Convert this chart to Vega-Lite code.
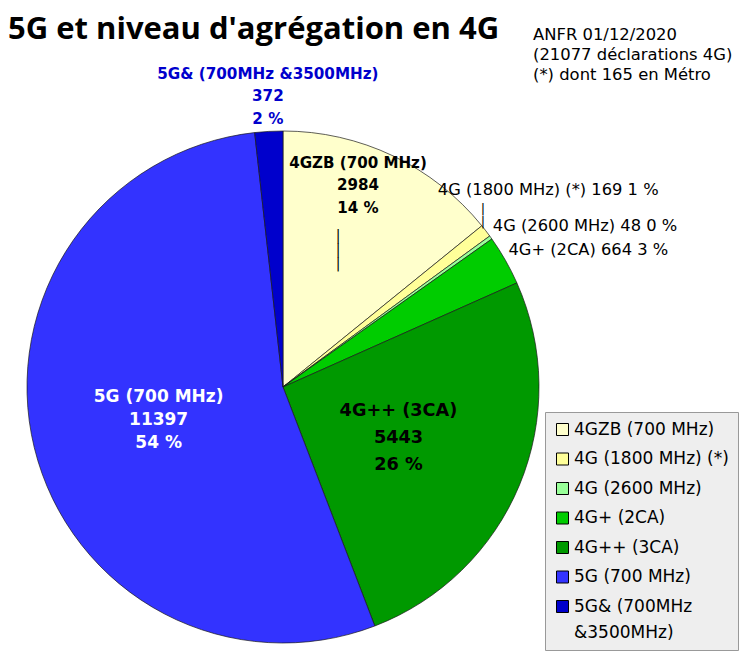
{
  "$schema": "https://vega.github.io/schema/vega-lite/v6.json",
  "width": 512,
  "height": 512,
  "autosize": {"type": "none"},
  "padding": {"left": 27, "top": 131, "right": 204, "bottom": 14},
  "background": "white",
  "title": {
    "text": "5G et niveau d'agrégation en 4G",
    "anchor": "start",
    "frame": "group",
    "font": "Open Sans",
    "fontSize": 31,
    "fontWeight": "bold",
    "color": "black",
    "dx": -19,
    "dy": 19,
    "offset": 0
  },
  "config": {"view": {"stroke": null}, "font": "DejaVu Sans", "style": {"guide-label": {"lineHeight": 26}}},
  "data": {
    "values": [
      {"name": "4GZB (700 MHz)", "value": 2984, "order": 1, "label": "4GZB (700 MHz)\n2984\n14 %"},
      {"name": "4G (1800 MHz) (*)", "value": 169, "order": 2, "label": "4G (1800 MHz) (*) 169 1 %"},
      {"name": "4G (2600 MHz)", "value": 48, "order": 3, "label": "4G (2600 MHz) 48 0 %"},
      {"name": "4G+ (2CA)", "value": 664, "order": 4, "label": "4G+ (2CA) 664 3 %"},
      {"name": "4G++ (3CA)", "value": 5443, "order": 5, "label": "4G++ (3CA)\n5443\n26 %"},
      {"name": "5G (700 MHz)", "value": 11397, "order": 6, "label": "5G (700 MHz)\n11397\n54 %"},
      {"name": "5G& (700MHz &3500MHz)", "value": 372, "order": 7, "label": "5G& (700MHz &3500MHz)\n372\n2 %"}
    ]
  },
  "encoding": {
    "theta": {"field": "value", "type": "quantitative", "stack": true},
    "order": {"field": "order", "type": "quantitative"}
  },
  "layer": [
    {
      "mark": {"type": "arc", "stroke": "#1a1a1a", "strokeWidth": 0.7},
      "encoding": {
        "color": {
          "field": "name",
          "type": "nominal",
          "scale": {
            "domain": ["4GZB (700 MHz)", "4G (1800 MHz) (*)", "4G (2600 MHz)", "4G+ (2CA)", "4G++ (3CA)", "5G (700 MHz)", "5G& (700MHz &3500MHz)"],
            "range": ["#ffffcc", "#ffff99", "#99ff99", "#00cc00", "#009900", "#3333ff", "#0000cc"]
          },
          "legend": {
            "title": null,
            "orient": "none",
            "legendX": 518,
            "legendY": 281,
            "direction": "vertical",
            "fillColor": "#eeeeee",
            "strokeColor": "#999999",
            "padding": 9,
            "symbolType": "square",
            "symbolSize": 144,
            "symbolStrokeColor": "black",
            "symbolStrokeWidth": 1,
            "symbolOpacity": 1,
            "labelFont": "DejaVu Sans",
            "labelFontSize": 17,
            "labelColor": "black",
            "labelOffset": 3,
            "labelLimit": 300,
            "rowPadding": 11.5,
            "labelExpr": "datum.label == '5G& (700MHz &3500MHz)' ? ['5G& (700MHz', '&3500MHz)'] : datum.label"
          }
        },
        "opacity": {
          "datum": "ANFR",
          "type": "nominal",
          "scale": {"range": [1, 1]},
          "legend": {
            "title": ["ANFR 01/12/2020", "(21077 déclarations 4G)", "(*) dont 165 en Métro"],
            "orient": "none",
            "legendX": 506,
            "legendY": -104,
            "padding": 0,
            "titleFont": "DejaVu Sans",
            "titleFontSize": 16.4,
            "titleFontWeight": "normal",
            "titleColor": "black",
            "titleLineHeight": 20,
            "titleLimit": 300,
            "symbolOpacity": 0,
            "symbolSize": 0,
            "labelExpr": "''"
          }
        }
      }
    },
    {
      "mark": {"type": "text", "font": "DejaVu Sans", "fontWeight": "bold", "fontSize": 15.1, "lineHeight": 22.5, "lineBreak": "\n", "color": "black", "align": "center", "baseline": "middle", "dx": -17.5, "dy": -30},
      "encoding": {
        "radius": {"value": 215},
        "text": {"condition": {"test": "datum.order == 1", "field": "label"}, "value": ""}
      }
    },
    {
      "mark": {"type": "text", "font": "DejaVu Sans", "fontWeight": "bold", "fontSize": 17.7, "lineHeight": 27, "lineBreak": "\n", "color": "black", "align": "center", "baseline": "middle", "dy": -24},
      "encoding": {
        "radius": {"value": 125},
        "text": {"condition": {"test": "datum.order == 5", "field": "label"}, "value": ""}
      }
    },
    {
      "mark": {"type": "text", "font": "DejaVu Sans", "fontWeight": "bold", "fontSize": 17, "lineHeight": 23, "lineBreak": "\n", "color": "white", "align": "center", "baseline": "middle", "dy": -20},
      "encoding": {
        "radius": {"value": 128},
        "text": {"condition": {"test": "datum.order == 6", "field": "label"}, "value": ""}
      }
    },
    {
      "mark": {"type": "text", "font": "DejaVu Sans", "fontWeight": "bold", "fontSize": 15.2, "lineHeight": 22.5, "lineBreak": "\n", "color": "#0000cc", "align": "center", "baseline": "middle", "dx": 1, "dy": -22.5},
      "encoding": {
        "radius": {"value": 291},
        "text": {"condition": {"test": "datum.order == 7", "field": "label"}, "value": ""}
      }
    },
    {
      "mark": {"type": "text", "font": "DejaVu Sans", "fontSize": 16.3, "color": "black", "align": "left", "baseline": "middle", "dx": -48, "dy": -41},
      "encoding": {
        "radius": {"value": 256},
        "text": {"condition": {"test": "datum.order == 2", "field": "label"}, "value": ""}
      }
    },
    {
      "mark": {"type": "text", "font": "DejaVu Sans", "fontSize": 16.3, "color": "black", "align": "left", "baseline": "middle", "dx": 2, "dy": -11},
      "encoding": {
        "radius": {"value": 256},
        "text": {"condition": {"test": "datum.order == 3", "field": "label"}, "value": ""}
      }
    },
    {
      "mark": {"type": "text", "font": "DejaVu Sans", "fontSize": 16.3, "color": "black", "align": "left", "baseline": "middle", "dx": 3, "dy": -10},
      "encoding": {
        "radius": {"value": 256},
        "text": {"condition": {"test": "datum.order == 4", "field": "label"}, "value": ""}
      }
    },
    {
      "mark": {"type": "text", "font": "DejaVu Sans", "fontSize": 13, "lineHeight": 13, "lineBreak": "\n", "color": "black", "align": "center", "baseline": "middle", "dx": -3, "dy": -22},
      "encoding": {
        "radius": {"value": 256},
        "text": {"condition": {"test": "datum.order == 2", "value": "|\n|"}, "value": ""}
      }
    },
    {
      "mark": {"type": "text", "font": "DejaVu Sans", "fontSize": 14, "lineHeight": 14, "lineBreak": "\n", "color": "black", "align": "center", "baseline": "middle", "dx": -9.5, "dy": -16},
      "encoding": {
        "radius": {"value": 150},
        "text": {"condition": {"test": "datum.order == 1", "value": "|\n|\n|"}, "value": ""}
      }
    }
  ]
}
